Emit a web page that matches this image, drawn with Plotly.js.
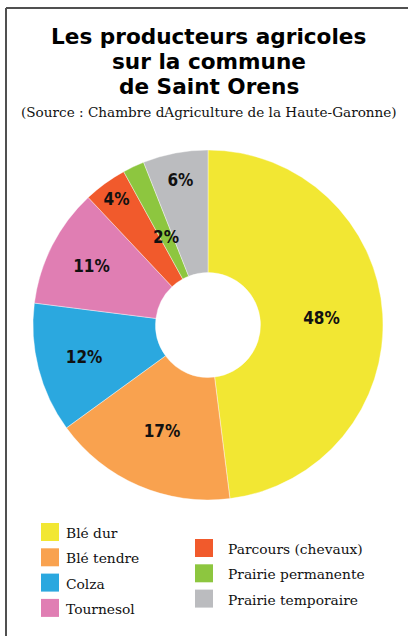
<!DOCTYPE html>
<html>
<head>
<meta charset="utf-8">
<script src="https://cdn.plot.ly/plotly-3.0.1.min.js"></script>
<style>
html,body{margin:0;padding:0;background:#fff;}
#chart{width:408px;height:636px;}
</style>
</head>
<body>
<div id="chart"></div>
<script>
// ---- data ----
const categories = ["Blé dur", "Blé tendre", "Colza", "Tournesol", "Parcours (chevaux)", "Prairie permanente", "Prairie temporaire"];
const values = [48, 17, 12, 11, 4, 2, 6];
const colors = ["#F2E733", "#F9A24F", "#2BA8DF", "#E07EB3", "#F15A2C", "#8DC63F", "#BBBCBF"];
const titleLines = ["Les producteurs agricoles", "sur la commune", "de Saint Orens"];
const subtitle = "(Source : Chambre dAgriculture de la Haute-Garonne)";

// ---- layout helpers (pixel -> paper) ----
const W = 408, H = 636;
const px = x => x / W;
const py = y => 1 - y / H;

const cx = 208, cy = 325, R = 175;
const labelFont = {family: "DejaVu Sans Condensed, Liberation Sans Narrow, Roboto Condensed, Liberation Sans, sans-serif", size: 17, color: "#111111", weight: "bold"};

// slices too thin for the library's inside text get an annotation at their mid-angle
const thin = values.map(v => v < 3);
const total = values.reduce((a, b) => a + b, 0);

const trace = {
  type: "pie",
  labels: categories,
  values: values,
  marker: {colors: colors, line: {color: "#ffffff", width: 0.4}},
  sort: false,
  direction: "clockwise",
  rotation: 0,
  hole: 0.3,
  texttemplate: values.map((v, i) => thin[i] ? "" : "%{value}%"),
  textposition: "inside",
  insidetextorientation: "horizontal",
  textfont: labelFont,
  hoverinfo: "label+value",
  showlegend: false,
  domain: {x: [px(cx - R), px(cx + R)], y: [py(cy + R), py(cy - R)]}
};

const annotations = [];
const shapes = [];

// thin-slice labels
let cum = 0;
values.forEach((v, i) => {
  const mid = (cum + v / 2) / total * 2 * Math.PI;
  cum += v;
  if (!thin[i]) return;
  const r = R * 0.557;
  annotations.push({
    text: v + "%", x: px(cx + r * Math.sin(mid)), y: py(cy - r * Math.cos(mid)),
    xref: "paper", yref: "paper", xanchor: "center", yanchor: "middle", showarrow: false,
    font: labelFont
  });
});

// title lines
const titleY = [36.5, 61.5, 86.5];
titleLines.forEach((t, i) => {
  annotations.push({
    text: "<b>" + t + "</b>", x: px(209), y: py(titleY[i]), xref: "paper", yref: "paper",
    xanchor: "center", yanchor: "middle", showarrow: false,
    font: {family: "DejaVu Sans, sans-serif", size: 21.6, color: "#000000"}
  });
});
annotations.push({
  text: subtitle, x: px(209.5), y: py(112.5), xref: "paper", yref: "paper",
  xanchor: "center", yanchor: "middle", showarrow: false,
  font: {family: "DejaVu Serif, serif", size: 13.6, color: "#111111"}
});

// legend (two columns)
const col1 = {sx: 41, tx: 64, y0: 532};
const col2 = {sx: 195, tx: 226, y0: 548};
const rowGap = 25.3, sq = 18;
categories.forEach((c, i) => {
  const col = i < 4 ? col1 : col2;
  const r = i < 4 ? i : i - 4;
  const yc = col.y0 + r * rowGap;
  shapes.push({
    type: "rect", xref: "paper", yref: "paper",
    x0: px(col.sx), x1: px(col.sx + sq), y0: py(yc + sq / 2), y1: py(yc - sq / 2),
    fillcolor: colors[i], line: {width: 0}
  });
  annotations.push({
    text: c, x: px(col.tx), y: py(yc + 1), xref: "paper", yref: "paper",
    xanchor: "left", yanchor: "middle", showarrow: false,
    font: {family: "DejaVu Serif, serif", size: 13.8, color: "#111111"}
  });
});

// frame (top and left edges visible)
shapes.push({type: "line", xref: "paper", yref: "paper", x0: px(6), x1: px(410), y0: py(8), y1: py(8), line: {color: "#505050", width: 2}});
shapes.push({type: "line", xref: "paper", yref: "paper", x0: px(6), x1: px(6), y0: py(8), y1: py(640), line: {color: "#505050", width: 2}});

const layout = {
  width: W, height: H,
  margin: {l: 0, r: 0, t: 0, b: 0},
  paper_bgcolor: "#ffffff",
  plot_bgcolor: "#ffffff",
  annotations: annotations,
  shapes: shapes,
  showlegend: false
};

Plotly.newPlot("chart", [trace], layout, {displayModeBar: false, staticPlot: true});
</script>
</body>
</html>
